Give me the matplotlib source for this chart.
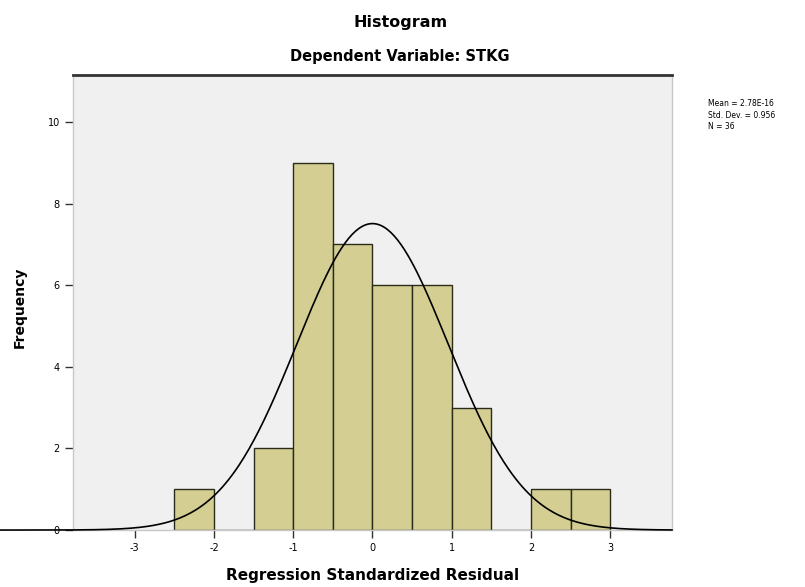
import numpy as np
import matplotlib
matplotlib.use("Agg")
import matplotlib.pyplot as plt

plt.rcParams["axes.unicode_minus"] = False

# Histogram of regression standardized residuals (bin width 0.5)
bin_left = [-2.5, -2.0, -1.5, -1.0, -0.5, 0.0, 0.5, 1.0, 1.5, 2.0, 2.5]
counts = [1, 0, 2, 9, 7, 6, 6, 3, 0, 1, 1]
bin_width = 0.5

mean_val = 0.0
std_dev = 0.956
n_obs = 36
stats_lines = ["Mean = 2.78E-16", "Std. Dev. = 0.956", "N = 36"]

x_ticks = [-3, -2, -1, 0, 1, 2, 3]
y_ticks = [0, 2, 4, 6, 8, 10]

fig = plt.figure(figsize=(8.05, 5.87), dpi=100)
ax = fig.add_axes([0.0907, 0.097, 0.744, 0.775])
ax.set_facecolor("#f0f0f0")

ax.bar(bin_left, counts, width=bin_width, align="edge",
       color="#d4ce93", edgecolor="#2b2b1a", linewidth=1.0, zorder=2)

# normal curve scaled to counts
xs = np.linspace(-4.7, 3.78, 400)
ys = n_obs * bin_width * np.exp(-0.5 * ((xs - mean_val) / std_dev) ** 2) / (std_dev * np.sqrt(2 * np.pi))
ax.plot(xs, ys, color="black", linewidth=1.2, zorder=3, clip_on=False)

ax.set_xlim(-3.78, 3.78)
ax.set_ylim(0, 11.15)
ax.set_xticks(x_ticks)
ax.set_yticks(y_ticks)
ax.tick_params(axis="both", labelsize=7, length=6, width=1.0, color="#333333")
ax.tick_params(axis="x", pad=3)

for side in ["left", "right", "bottom"]:
    ax.spines[side].set_color("#c8c8c8")
    ax.spines[side].set_linewidth(1.0)
ax.spines["top"].set_color("#333333")
ax.spines["top"].set_linewidth(2.0)

ax.set_xlabel("Regression Standardized Residual", fontsize=11, fontweight="bold", labelpad=11)
ax.set_ylabel("Frequency", fontsize=10, fontweight="bold")
ax.yaxis.set_label_coords(-0.077, 0.49)

fig.text(0.497, 0.962, "Histogram", ha="center", va="center", fontsize=11.5, fontweight="bold")
fig.text(0.497, 0.903, "Dependent Variable: STKG", ha="center", va="center", fontsize=10.5, fontweight="bold")

for i, line in enumerate(stats_lines):
    fig.text(0.88, 0.823 - i * 0.019, line, ha="left", va="center", fontsize=5.5)

fig.savefig("out.png", dpi=100, facecolor="white")
